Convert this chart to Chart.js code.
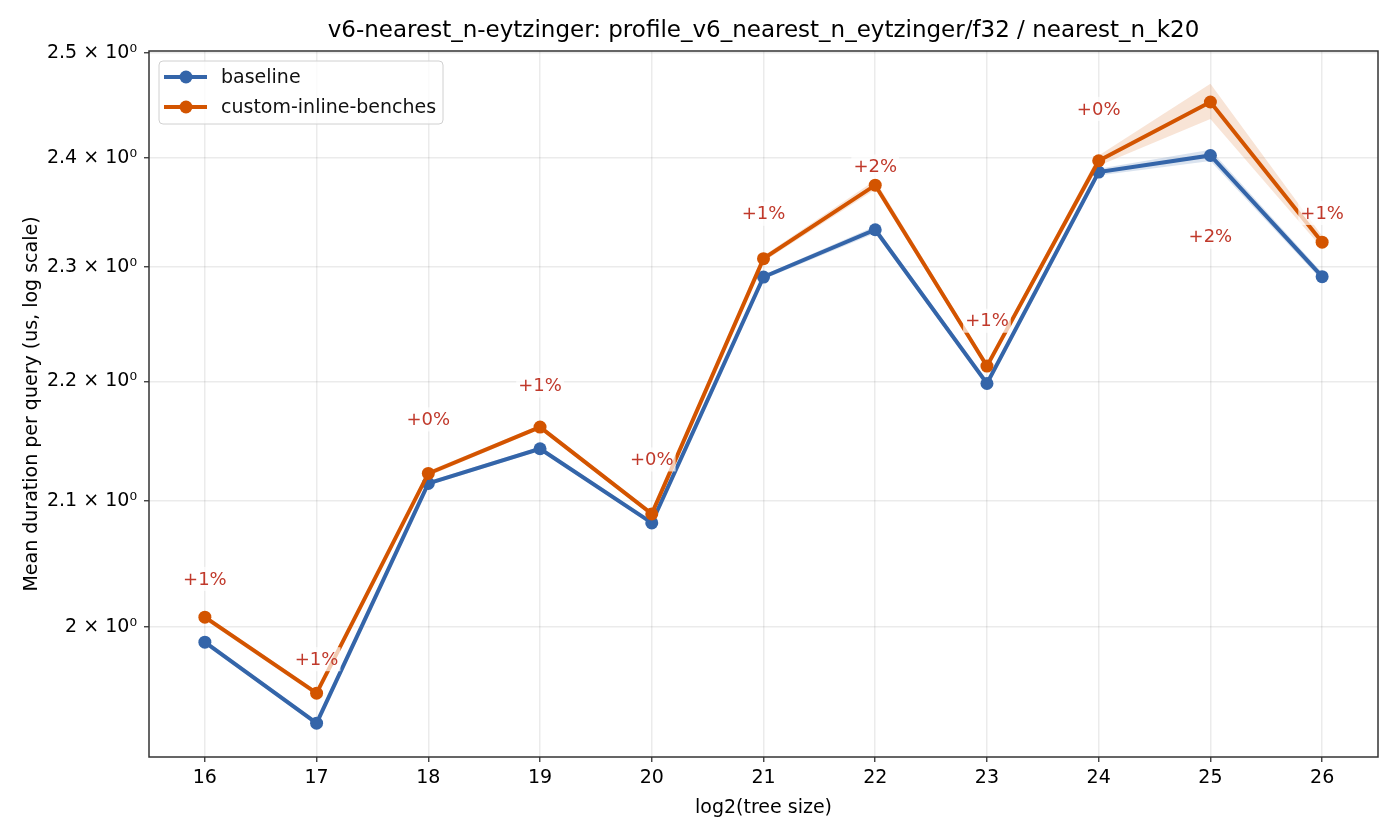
<!DOCTYPE html>
<html><head><meta charset="utf-8">
<script src="https://cdn.jsdelivr.net/npm/chart.js@4"></script>
<style>html,body{margin:0;padding:0;background:#fff}</style>
</head><body>
<canvas id="c" width="1400" height="840" style="width:1400px;height:840px;display:block"></canvas>
<script>
const treeSizes = [16, 17, 18, 19, 20, 21, 22, 23, 24, 25, 26];
const baseline = [1.9879, 1.9263, 2.1145, 2.1432, 2.0823, 2.2912, 2.3337, 2.1983, 2.3866, 2.4021, 2.2915];
const baselineLo = [1.9862, 1.9247, 2.1128, 2.1415, 2.0806, 2.2893, 2.3305, 2.1964, 2.3835, 2.3970, 2.2880];
const baselineHi = [1.9896, 1.9279, 2.1162, 2.1449, 2.0840, 2.2931, 2.3370, 2.2002, 2.3897, 2.4075, 2.2950];
const custom = [2.0073, 1.9489, 2.1227, 2.1613, 2.0896, 2.3076, 2.3745, 2.2132, 2.3972, 2.4526, 2.3225];
const customLo = [2.0053, 1.9470, 2.1207, 2.1595, 2.0878, 2.3050, 2.3705, 2.2110, 2.3925, 2.4364, 2.3170];
const customHi = [2.0093, 1.9508, 2.1247, 2.1631, 2.0914, 2.3102, 2.3790, 2.2154, 2.4020, 2.4701, 2.3280];
const annotLabels = ['+1%', '+1%', '+0%', '+1%', '+0%', '+1%', '+2%', '+1%', '+0%', '+2%', '+1%'];
const annotY = [2.0374, 1.9748, 2.1678, 2.1966, 2.1343, 2.3483, 2.3918, 2.2526, 2.4460, 2.3275, 2.3490];
const yTicks = [2.0, 2.1, 2.2, 2.3, 2.4, 2.5];
const yTickLabels = ['2 \u00d7 10\u2070', '2.1 \u00d7 10\u2070', '2.2 \u00d7 10\u2070', '2.3 \u00d7 10\u2070', '2.4 \u00d7 10\u2070', '2.5 \u00d7 10\u2070'];
const seriesNames = ['baseline', 'custom-inline-benches'];
const titleText = 'v6-nearest_n-eytzinger: profile_v6_nearest_n_eytzinger/f32 / nearest_n_k20';

const BLUE = '#3465a9', ORANGE = '#d35400', RED = '#c0392b';
const FONT = "'DejaVu Sans', sans-serif";
const pts = arr => treeSizes.map((x, i) => ({x: x, y: arr[i]}));

const framePlugin = {
  id: 'frame',
  afterLayout(chart) {
    const t = chart.titleBlock, a = chart.chartArea;
    if (t && a) { t.left = a.left; t.right = a.right; t.width = a.right - a.left; }
  },
  afterDatasetsDraw(chart) {
    const ctx = chart.ctx, xs = chart.scales.x, ys = chart.scales.y;
    ctx.save();
    ctx.font = '18px ' + FONT;
    ctx.textAlign = 'center';
    ctx.textBaseline = 'middle';
    treeSizes.forEach((t, i) => {
      const px = xs.getPixelForValue(t), py = ys.getPixelForValue(annotY[i]);
      const w = ctx.measureText(annotLabels[i]).width;
      ctx.fillStyle = 'rgba(255,255,255,0.7)';
      ctx.fillRect(px - w / 2 - 2, py - 12, w + 4, 24);
      ctx.fillStyle = RED;
      ctx.fillText(annotLabels[i], px, py + 1);
    });
    ctx.restore();
  },
  afterDraw(chart) {
    const ctx = chart.ctx, a = chart.chartArea;
    ctx.save();
    ctx.strokeStyle = '#333';
    ctx.lineWidth = 1.5;
    ctx.strokeRect(a.left, a.top, a.right - a.left, a.bottom - a.top);
    // legend
    const lx = a.left + 10, ly = a.top + 10, lw = 284, lh = 63;
    ctx.beginPath();
    ctx.roundRect(lx, ly, lw, lh, 4);
    ctx.fillStyle = 'rgba(255,255,255,0.8)';
    ctx.fill();
    ctx.strokeStyle = '#d0d0d0';
    ctx.lineWidth = 1;
    ctx.stroke();
    const cols = [BLUE, ORANGE];
    ctx.font = '19px ' + FONT;
    ctx.textBaseline = 'middle';
    ctx.textAlign = 'left';
    seriesNames.forEach((n, i) => {
      const yy = ly + 16 + i * 30;
      ctx.strokeStyle = cols[i];
      ctx.lineWidth = 4;
      ctx.beginPath(); ctx.moveTo(lx + 5, yy); ctx.lineTo(lx + 48, yy); ctx.stroke();
      ctx.fillStyle = cols[i];
      ctx.beginPath(); ctx.arc(lx + 27, yy, 6.5, 0, Math.PI * 2); ctx.fill();
      ctx.fillStyle = '#111';
      ctx.fillText(n, lx + 62, yy + 1);
    });
    ctx.restore();
  }
};

new Chart(document.getElementById('c'), {
  type: 'line',
  data: {
    datasets: [
      {label: 'baseline_lo', data: pts(baselineLo), borderWidth: 0, borderColor: 'rgba(0,0,0,0)', pointRadius: 0, fill: false, order: 5},
      {label: 'baseline_hi', data: pts(baselineHi), borderWidth: 0, borderColor: 'rgba(0,0,0,0)', pointRadius: 0, fill: 0, backgroundColor: 'rgba(52,101,169,0.18)', order: 4},
      {label: 'custom_lo', data: pts(customLo), borderWidth: 0, borderColor: 'rgba(0,0,0,0)', pointRadius: 0, fill: false, order: 3},
      {label: 'custom_hi', data: pts(customHi), borderWidth: 0, borderColor: 'rgba(0,0,0,0)', pointRadius: 0, fill: 2, backgroundColor: 'rgba(211,84,0,0.16)', order: 2},
      {label: seriesNames[0], data: pts(baseline), borderColor: BLUE, backgroundColor: BLUE, borderWidth: 4, pointRadius: 6.5, pointBorderWidth: 0, pointBackgroundColor: BLUE, fill: false, order: 1},
      {label: seriesNames[1], data: pts(custom), borderColor: ORANGE, backgroundColor: ORANGE, borderWidth: 4, pointRadius: 6.5, pointBorderWidth: 0, pointBackgroundColor: ORANGE, fill: false, order: 0}
    ]
  },
  options: {
    responsive: false,
    animation: false,
    devicePixelRatio: 1,
    layout: {padding: {left: 0, right: 22, top: 0, bottom: 0}},
    plugins: {
      legend: {display: false},
      tooltip: {enabled: false},
      title: {display: true, text: titleText, color: '#000', font: {family: FONT, size: 23, weight: 'normal', lineHeight: 1.2}, padding: {top: 17, bottom: 6.4}}
    },
    scales: {
      x: {
        type: 'linear', min: 15.5, max: 26.5,
        afterBuildTicks: s => { s.ticks = treeSizes.map(v => ({value: v})); },
        afterFit: s => { s.height = 83; },
        ticks: {color: '#000', font: {family: FONT, size: 19}, padding: 5, maxRotation: 0, callback: v => String(v)},
        grid: {color: 'rgba(0,0,0,0.08)', lineWidth: 1.5, tickColor: '#333', tickLength: 5, tickWidth: 1.3},
        border: {display: false},
        title: {display: true, text: 'log2(tree size)', color: '#000', font: {family: FONT, size: 19}, padding: {top: 4, bottom: 20.6}}
      },
      y: {
        type: 'logarithmic', min: 1.9011, max: 2.5017,
        afterBuildTicks: s => { s.ticks = yTicks.map(v => ({value: v})); },
        afterFit: s => { s.width = 149; },
        ticks: {color: '#000', font: {family: FONT, size: 19}, padding: 7, callback: (v) => { const i = yTicks.findIndex(t => Math.abs(t - v) < 1e-9); return i >= 0 ? yTickLabels[i] : ''; }},
        grid: {color: 'rgba(0,0,0,0.08)', lineWidth: 1.5, tickColor: '#333', tickLength: 5, tickWidth: 1.3},
        border: {display: false},
        title: {display: true, text: 'Mean duration per query (us, log scale)', color: '#000', font: {family: FONT, size: 19}, padding: {top: 20.6, bottom: 4}}
      }
    }
  },
  plugins: [framePlugin]
});
</script>
</body></html>
